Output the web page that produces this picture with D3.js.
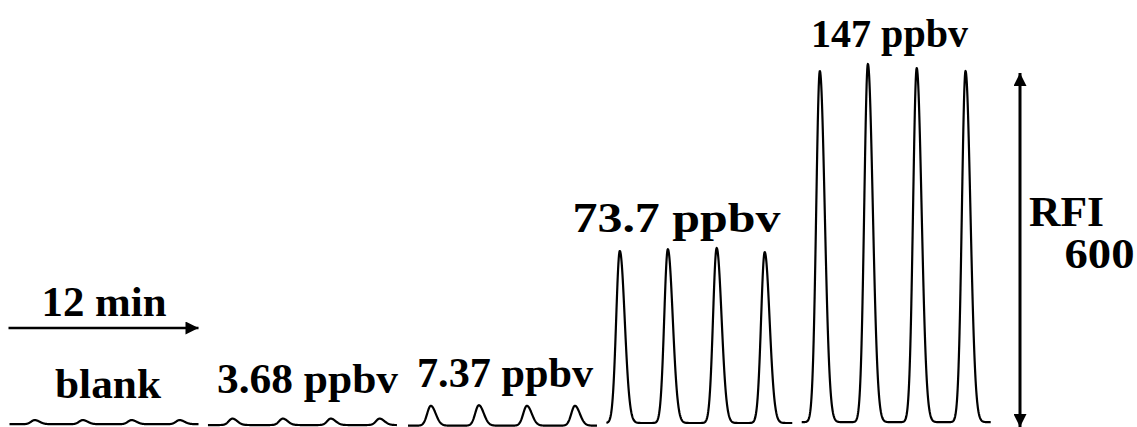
<!DOCTYPE html>
<html>
<head>
<meta charset="utf-8">
<script src="https://cdn.jsdelivr.net/npm/d3@7"></script>
<style>
  html, body { margin: 0; padding: 0; background: #fff; }
  svg { display: block; }
  text { font-family: "Liberation Serif", "Times New Roman", serif; font-weight: bold; fill: #000; }
</style>
</head>
<body>
<svg id="chart" width="1137" height="427"></svg>
<script>
// Injections of standard gas: blank and four concentrations
const samples = ["blank", "3.68 ppbv", "7.37 ppbv", "73.7 ppbv", "147 ppbv"];
// Start time of each recorded trace (min) on the shared time axis
const traceStart = [0, 12.6, 25.3, 37.9, 50.3];
// Length of each recorded trace (min)
const traceLength = [12, 12, 12, 11.8, 12];
// Baseline level of each trace (RFI)
const baselineRFI = [-2, -3.5, -4.5, 0, 1.5];
// Peak retention times within each trace (min)
const peakTimes = [
  [1.6, 4.65, 7.75, 10.8],
  [1.55, 4.75, 7.8, 10.9],
  [1.45, 4.5, 7.55, 10.6],
  [0.85, 3.9, 7.0, 10.05],
  [1.15, 4.2, 7.3, 10.4]
];
// Peak heights above baseline (RFI)
const peakHeights = [
  [7, 7, 7, 7],
  [11, 11, 11, 11],
  [34, 35, 34, 34],
  [295, 298, 300, 293],
  [602, 614, 607, 602]
];
// Scale bars
const timeBarMin = 12;
const rfiBar = 600;

const svg = d3.select("#chart");
const x = d3.scaleLinear().domain([0, 72]).range([9.5, 1143.5]);
const y = d3.scaleLinear().domain([0, 600]).range([423, 73]);

// Slightly tailing peak profile: narrower front, wider back
const sigFront = 0.23, sigBack = 0.31;
function signal(i, t) {
  let s = baselineRFI[i];
  peakTimes[i].forEach((pt, k) => {
    const d = t - pt;
    const sg = d < 0 ? sigFront : sigBack;
    s += peakHeights[i][k] * Math.exp(-0.5 * (d / sg) * (d / sg));
  });
  return s;
}

const line = d3.line().x(d => x(d[0])).y(d => y(d[1]));

samples.forEach((name, i) => {
  const pts = d3.range(0, traceLength[i] + 1e-9, 0.02).map(t => [traceStart[i] + t, signal(i, t)]);
  svg.append("path")
    .attr("d", line(pts))
    .attr("fill", "none")
    .attr("stroke", "#000")
    .attr("stroke-width", 2.2)
    .attr("stroke-linejoin", "round");
});

// Arrowhead marker
const defs = svg.append("defs");
defs.append("marker")
  .attr("id", "head")
  .attr("viewBox", "0 0 10 10")
  .attr("refX", 10).attr("refY", 5)
  .attr("markerUnits", "userSpaceOnUse")
  .attr("markerWidth", 14).attr("markerHeight", 13)
  .attr("orient", "auto-start-reverse")
  .append("path").attr("d", "M0,0 L10,5 L0,10 Z").attr("fill", "#000");

function label(txt, o) {
  svg.append("text")
    .attr("x", o.x).attr("y", o.y)
    .attr("text-anchor", o.anchor || "middle")
    .attr("font-size", o.size)
    .attr("textLength", o.len)
    .attr("lengthAdjust", "spacingAndGlyphs")
    .text(txt);
}

// Time scale bar (12 min)
svg.append("line")
  .attr("x1", x(0) - 1).attr("x2", x(timeBarMin))
  .attr("y1", 328).attr("y2", 328)
  .attr("stroke", "#000").attr("stroke-width", 2.4)
  .attr("marker-end", "url(#head)");
label(timeBarMin + " min", { x: 104, y: 316, size: 42, len: 125 });

// Intensity scale bar (600 RFI)
svg.append("line")
  .attr("x1", 1020).attr("x2", 1020)
  .attr("y1", y(-7)).attr("y2", y(rfiBar))
  .attr("stroke", "#000").attr("stroke-width", 3)
  .attr("marker-start", "url(#head)")
  .attr("marker-end", "url(#head)");
label("RFI", { x: 1029, y: 226, size: 42, len: 75, anchor: "start" });
label(String(rfiBar), { x: 1099.5, y: 268, size: 42, len: 70 });

// Sample labels
const labelPos = [
  { x: 108, y: 398, size: 42, len: 106 },
  { x: 307.5, y: 393, size: 42, len: 181 },
  { x: 505, y: 387, size: 42, len: 176 },
  { x: 676.5, y: 232, size: 43, len: 208 },
  { x: 889.5, y: 47, size: 41, len: 157 }
];
samples.forEach((name, i) => label(name, labelPos[i]));
</script>
</body>
</html>
